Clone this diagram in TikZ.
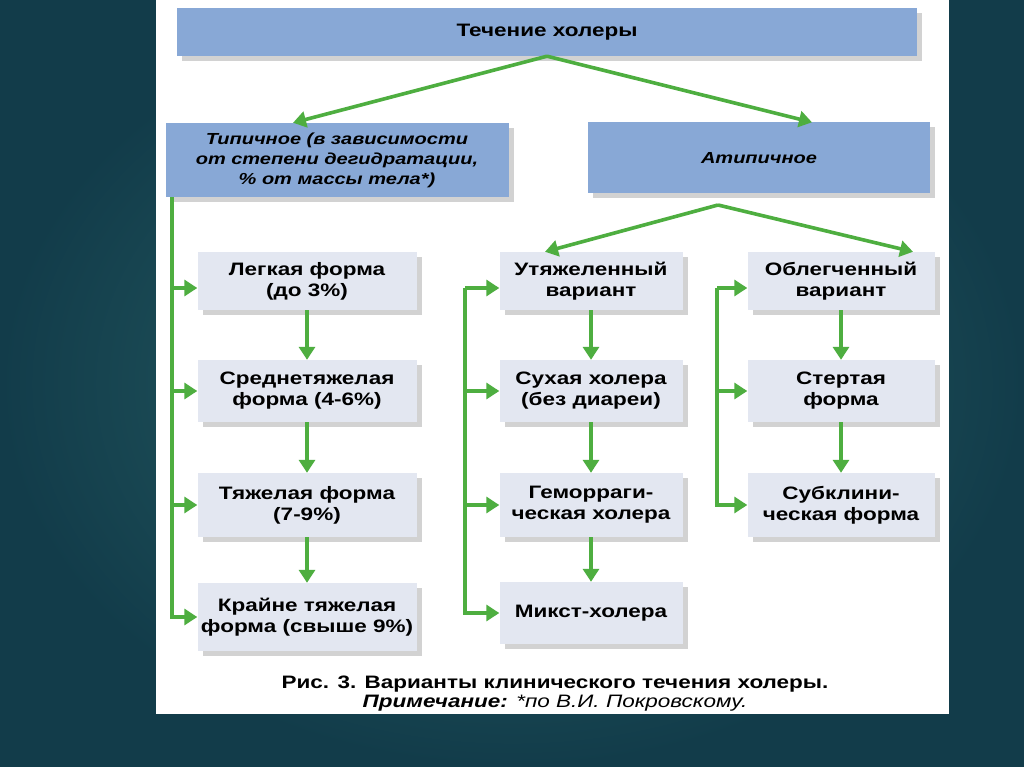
\documentclass[tikz,border=0pt]{standalone}
\usepackage{fontspec}
\setmainfont{Liberation Sans}[FakeStretch=1.25]
\usetikzlibrary{arrows.meta,shadows}
\definecolor{boxblue}{HTML}{88A8D6}
\definecolor{boxgray}{HTML}{E3E7F1}
\definecolor{linkgreen}{HTML}{4EAE40}
\definecolor{bgdark}{HTML}{123C4A}
\definecolor{bglight}{HTML}{2A6468}
\begin{document}
\begin{tikzpicture}[x=1pt,y=-1pt,
  boxshadow/.style={drop shadow={shadow xshift=5pt,shadow yshift=-5pt,fill=black!35,opacity=.5}},
  headbox/.style={fill=boxblue, inner sep=0pt, align=center, boxshadow,
    font=\fontsize{18}{21}\selectfont\bfseries},
  slanted/.style={font=\fontsize{16}{20}\selectfont\bfseries\itshape},
  formbox/.style={fill=boxgray, inner sep=0pt, align=center, boxshadow,
    font=\fontsize{18}{21}\selectfont\bfseries},
  link/.style={draw=linkgreen, line width=3.6pt, -{Triangle[length=13pt,width=16pt]}},
]
% background and sheet
\shade[inner color=bglight, outer color=bgdark] (0,0) rectangle (1024,767);
\fill[white] (156,0) rectangle (949,714);

% top level
\node[headbox, minimum width=740pt, minimum height=48pt] (head) at (547,32) {Течение холеры};
\node[headbox, slanted, minimum width=343pt, minimum height=74pt] (typ) at (337,160) {Типичное (в зависимости\\от степени дегидратации,\\\% от массы тела*)};
\node[headbox, slanted, minimum width=342pt, minimum height=71pt] (atyp) at (759,158) {Атипичное};

% typical forms
\node[formbox, minimum width=219pt, minimum height=58pt] (l1) at (307,281) {Легкая форма\\(до 3\%)};
\node[formbox, minimum width=219pt, minimum height=62pt] (l2) at (307,391) {Среднетяжелая\\форма (4-6\%)};
\node[formbox, minimum width=219pt, minimum height=64pt] (l3) at (307,505) {Тяжелая форма\\(7-9\%)};
\node[formbox, minimum width=219pt, minimum height=68pt] (l4) at (307,617) {Крайне тяжелая\\форма (свыше 9\%)};

% atypical, heavier
\node[formbox, minimum width=183pt, minimum height=58pt] (m1) at (591,281) {Утяжеленный\\вариант};
\node[formbox, minimum width=183pt, minimum height=62pt] (m2) at (591,391) {Сухая холера\\(без диареи)};
\node[formbox, minimum width=183pt, minimum height=64pt] (m3) at (591,505) {Геморраги-\\ческая холера};
\node[formbox, minimum width=183pt, minimum height=62pt] (m4) at (591,613) {Микст-холера};

% atypical, lighter
\node[formbox, minimum width=187pt, minimum height=58pt] (r1) at (841,281) {Облегченный\\вариант};
\node[formbox, minimum width=187pt, minimum height=62pt] (r2) at (841,391) {Стертая\\форма};
\node[formbox, minimum width=187pt, minimum height=64pt] (r3) at (841,505) {Субклини-\\ческая форма};

\node[font=\fontsize{18}{19}\selectfont, align=center] (caption) at (555,694) {\textbf{Рис. 3. Варианты клинического течения холеры.}\\\textbf{\textit{Примечание:}} \textit{*по В.И. Покровскому.}};

% connectors
\draw[link] (head.south) -- ([xshift=-44pt]typ.north);
\draw[link] (head.south) -- ([xshift=53pt]atyp.north);
\coordinate (atfork) at (718,205);
\draw[link] (atfork) -- ([xshift=-46pt]m1.north);
\draw[link] (atfork) -- ([xshift=72pt]r1.north);

\coordinate (ltrunk) at (172,197);
\coordinate (mtrunk) at (465,288);
\coordinate (rtrunk) at (717,288);
\draw[link] (ltrunk) |- (l4.west);
\draw[link] (mtrunk) |- (m4.west);
\draw[link] (rtrunk) |- (r3.west);
\draw[link] (ltrunk |- mtrunk) -- (mtrunk -| l1.west);
\foreach \b in {l2,l3}
  \draw[link] (ltrunk |- \b.west) -- (\b.west);
\draw[link] (mtrunk) -- (mtrunk -| m1.west);
\foreach \b in {m2,m3}
  \draw[link] (mtrunk |- \b.west) -- (\b.west);
\draw[link] (rtrunk) -- (rtrunk -| r1.west);
\draw[link] (rtrunk |- r2.west) -- (r2.west);

\foreach \a/\b in {l1/l2,l2/l3,l3/l4,m1/m2,m2/m3,m3/m4,r1/r2,r2/r3}
  \draw[link] (\a) -- (\b);
\end{tikzpicture}
\end{document}
